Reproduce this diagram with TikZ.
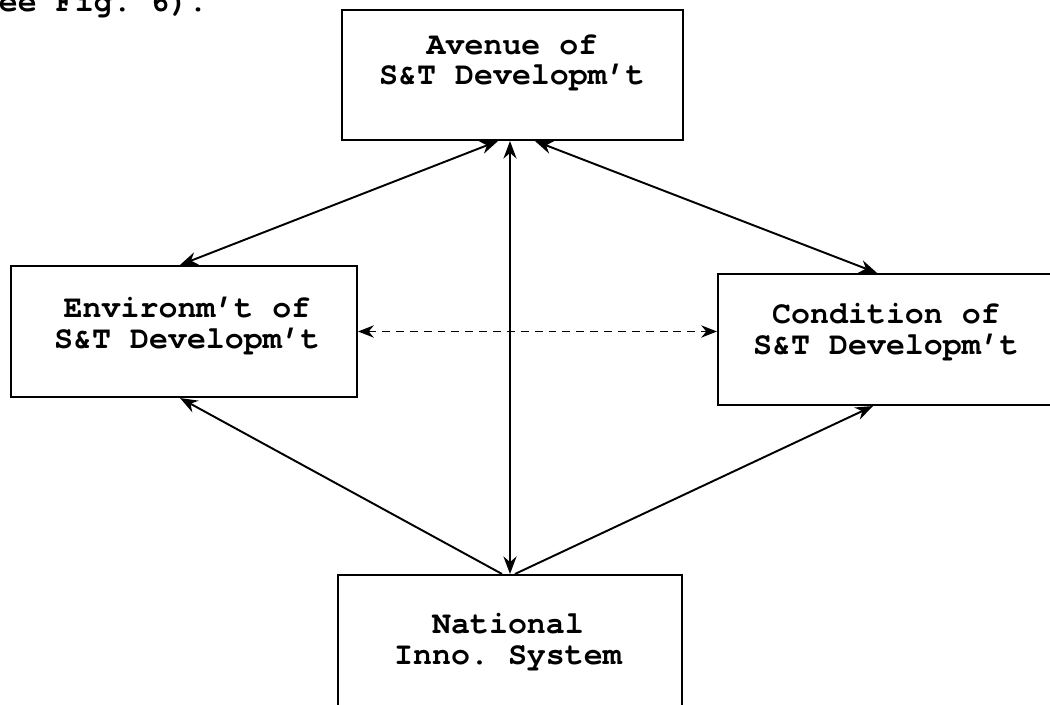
\documentclass[tikz,border=0pt]{standalone}
\usepackage{fontspec}
\setmonofont{TeX Gyre Cursor}
\usepackage{tikz}
\usetikzlibrary{arrows.meta,calc,positioning}
\tikzset{
  caja/.style={draw,line width=1.2pt,rectangle,inner sep=0pt},
  texto/.style={align=center,inner sep=0pt,font=\ttfamily\bfseries\fontsize{18}{17.5}\selectfont},
  flecha/.style={line width=1.1pt,-{Stealth[length=10pt,width=7.5pt]}},
  doble/.style={line width=1.1pt,{Stealth[length=10pt,width=7.5pt]}-{Stealth[length=10pt,width=7.5pt]}},
  punteada/.style={line width=0.8pt,dash pattern=on 4.5pt off 3.4pt,{Stealth[length=9pt,width=7pt]}-{Stealth[length=9pt,width=7pt]}}
}

\begin{document}
\begin{tikzpicture}[x=0.02cm,y=-0.02cm]
\useasboundingbox (0,0) rectangle (1050,705);
\clip (0,0) rectangle (1050,705);
\node[texto,anchor=base east] (fig) at (208,12) {(see Fig. 6).};
% cajas
\node[caja,minimum width=6.82cm,minimum height=2.6cm] (ave) at (512.5,75) {};
\node[caja,minimum width=6.92cm,minimum height=2.62cm] (env) at (184,331.5) {};
\node[caja,minimum width=6.88cm,minimum height=2.62cm] (cond) at (890,339.5) {};
\node[caja,minimum width=6.88cm,minimum height=3cm] (nat) at (510,650) {};
\node[texto] (aveT) at (512,63) {Avenue of\\S\&T Developm’t};
\node[texto] (envT) at (187,326) {Environm’t of\\S\&T Developm’t};
\node[texto] (condT) at (886,332) {Condition of\\S\&T Developm’t};
\node[texto] (natT) at (508,642) {National\\Inno. System};
% flechas
\draw[doble] ($(ave.south)+(-14.5,0)$) -- ($(env.north)+(-4,0)$);
\draw[doble] ($(ave.south)+(22.5,0)$) -- ($(cond.north)+(-13,0)$);
\draw[doble] ($(ave.south)+(-2.5,0)$) -- (nat.north);
\draw[punteada] (env.east) -- (env.east -| cond.west);
\draw[flecha] ($(nat.north)+(-8,0)$) -- ($(env.south)+(-4,0)$);
\draw[flecha] ($(nat.north)+(5,0)$) -- ($(cond.south)+(-17,0)$);
\end{tikzpicture}
\end{document}
